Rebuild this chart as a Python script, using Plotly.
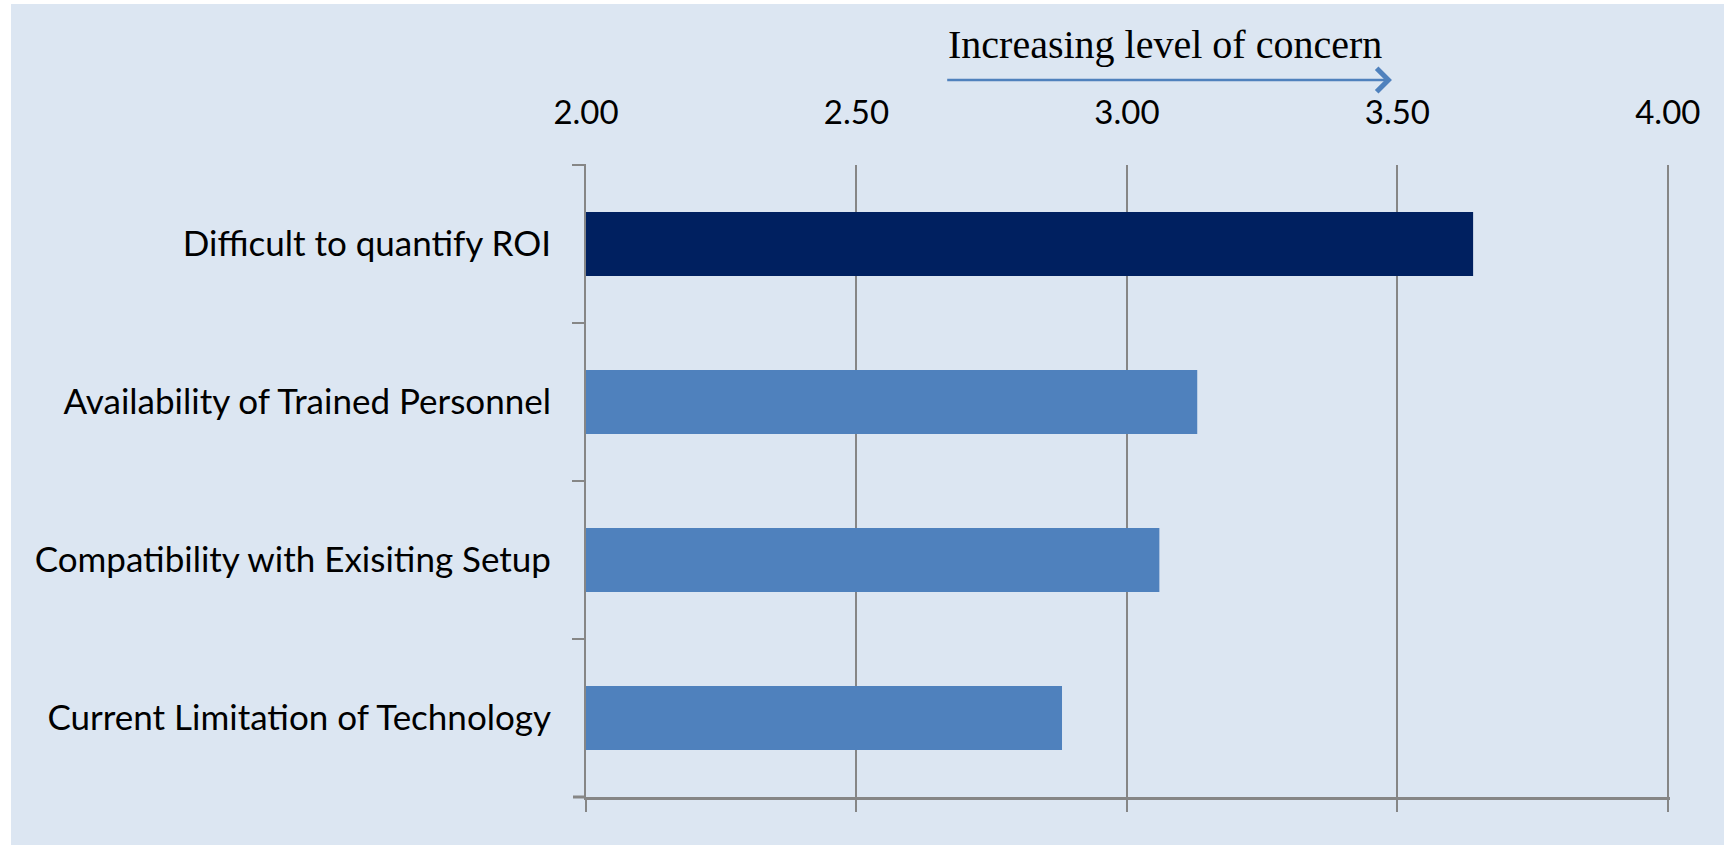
import plotly.graph_objects as go

# ---- data ----
categories = [
    "Difficult to quantify ROI",
    "Availability of Trained Personnel",
    "Compatibility with Exisiting Setup",
    "Current Limitation of Technology",
]
scores = [3.64, 3.13, 3.06, 2.88]
tick_values = [2.0, 2.5, 3.0, 3.5, 4.0]
tick_labels = ["2.00", "2.50", "3.00", "3.50", "4.00"]
annotation_text = "Increasing level of concern"
arrow_start, arrow_end = 2.665, 3.49
x_range = [2, 4.004]

# ---- style ----
bar_colors = ["#002060", "#4F81BD", "#4F81BD", "#4F81BD"]
bg = "#DCE6F2"
grey = "#868686"

W, H = 1724, 845
L, R, T, B = 586, 54, 165, 48
pw = W - L - R
ph = H - T - B

fig = go.Figure()
fig.add_trace(go.Bar(
    y=categories, x=scores, orientation="h",
    marker=dict(color=bar_colors, line=dict(width=0)),
    width=0.405, hoverinfo="x+y", showlegend=False,
))
# invisible helper so the bottom axis (line + ticks) is drawn
fig.add_trace(go.Scatter(
    x=[scores[-1]], y=[categories[-1]], xaxis="x2", mode="markers",
    marker=dict(opacity=0), hoverinfo="skip", showlegend=False,
))

fig.update_layout(
    width=W, height=H,
    margin=dict(l=L, r=R, t=T, b=B, pad=0),
    paper_bgcolor="white",
    plot_bgcolor="rgba(0,0,0,0)",
    showlegend=False,
    xaxis=dict(
        side="top", range=x_range, tickvals=tick_values, ticktext=tick_labels,
        showgrid=True, gridcolor=grey, gridwidth=2,
        zeroline=False, showline=False, ticks="",
        ticklabelstandoff=33,
        tickfont=dict(family="Lato", size=33, color="black"),
        fixedrange=True,
    ),
    xaxis2=dict(
        overlaying="x", anchor="y", side="bottom", range=x_range,
        tickvals=tick_values, showticklabels=False, showgrid=False,
        zeroline=False, showline=True, linecolor=grey, linewidth=3,
        ticks="outside", ticklen=12, tickwidth=2, tickcolor=grey,
    ),
    yaxis=dict(
        categoryorder="array", categoryarray=categories, autorange="reversed",
        showgrid=False, zeroline=False,
        showline=True, linecolor=grey, linewidth=2,
        ticks="outside", tickson="boundaries", ticklen=12, tickwidth=2, tickcolor=grey,
        ticklabelstandoff=26,
        tickfont=dict(family="Lato", size=35, color="black"),
    ),
    shapes=[
        dict(
            type="rect", xref="paper", yref="paper", layer="below",
            x0=(11 - L) / pw, x1=1.2, y0=-0.2, y1=(H - B - 4) / ph,
            fillcolor=bg, line=dict(width=0),
        ),
        dict(type="line", xref="paper", yref="paper", x0=-13 / pw, x1=0, y0=1, y1=1,
             line=dict(color=grey, width=2)),
        dict(type="line", xref="paper", yref="paper", x0=-13 / pw, x1=0, y0=0, y1=0,
             line=dict(color=grey, width=3)),
    ],
    annotations=[
        dict(
            text=annotation_text, xref="x", yref="paper",
            x=arrow_start, y=(H - B - 44) / ph, xanchor="left", yanchor="middle",
            showarrow=False,
            font=dict(family="Liberation Serif", size=40, color="black"),
        ),
        dict(
            text="", xref="x", yref="paper", x=arrow_end, y=(H - B - 80) / ph,
            axref="x", ayref="pixel", ax=arrow_start, ay=0,
            showarrow=True, arrowhead=4, arrowsize=1.8, arrowwidth=2.5,
            arrowcolor="#4F81BD",
        ),
    ],
)

fig.write_html("out.html")
